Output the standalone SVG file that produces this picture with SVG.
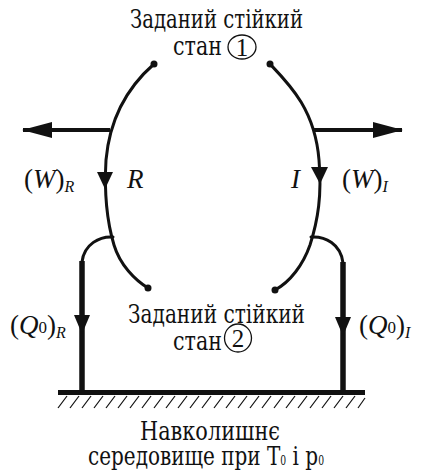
<svg xmlns="http://www.w3.org/2000/svg" width="425" height="475" viewBox="0 0 425 475">
<style>
text{font-family:"Liberation Serif","DejaVu Serif",serif;fill:#111;}
.t{font-size:26px;font-family:"DejaVu Serif","Liberation Serif",serif;}
.i{font-style:italic;}
.m{font-size:27px;}
.s{font-size:16px;font-style:italic;}
.z{font-size:17px;font-style:normal;}
.arc{fill:none;stroke:#111;stroke-width:3;stroke-linecap:round;}
.thick{fill:none;stroke:#111;stroke-width:5.5;}
.ar{fill:none;stroke:#111;stroke-width:4;}
.h{stroke:#111;stroke-width:1.2;}
.tri{fill:#111;}
.c{fill:none;stroke:#111;stroke-width:1.3;}
</style>
<defs>
<marker id="ah" viewBox="0 0 30 16" refX="29" refY="8" markerWidth="30" markerHeight="16" markerUnits="userSpaceOnUse" orient="auto">
<path d="M0,0 L30,8 L0,16 Z" fill="#111"/>
</marker>
</defs>

<g id="state1">
<text class="t" x="130" y="28" textLength="173" lengthAdjust="spacingAndGlyphs">Заданий стійкий</text>
<text class="t" x="173" y="55" textLength="49" lengthAdjust="spacingAndGlyphs">стан</text>
<ellipse class="c" cx="242" cy="47" rx="14" ry="12"/>
<text x="242" y="56" text-anchor="middle" font-size="25">1</text>
</g>

<g id="state2">
<text class="t" x="128" y="323" textLength="177" lengthAdjust="spacingAndGlyphs">Заданий стійкий</text>
<text class="t" x="173" y="350" textLength="49" lengthAdjust="spacingAndGlyphs">стан</text>
<ellipse class="c" cx="238" cy="338" rx="13.5" ry="14"/>
<text x="238" y="347" text-anchor="middle" font-size="25">2</text>
</g>

<g id="environment">
<rect x="58" y="390" width="307" height="5" fill="#111"/>
<g class="h">
<line x1="58" y1="408" x2="67" y2="396"/><line x1="70" y1="408" x2="79" y2="396"/><line x1="82" y1="408" x2="91" y2="396"/><line x1="94" y1="408" x2="103" y2="396"/><line x1="106" y1="408" x2="115" y2="396"/><line x1="118" y1="408" x2="127" y2="396"/><line x1="130" y1="408" x2="139" y2="396"/><line x1="142" y1="408" x2="151" y2="396"/><line x1="154" y1="408" x2="163" y2="396"/><line x1="166" y1="408" x2="175" y2="396"/><line x1="178" y1="408" x2="187" y2="396"/><line x1="190" y1="408" x2="199" y2="396"/><line x1="202" y1="408" x2="211" y2="396"/><line x1="214" y1="408" x2="223" y2="396"/><line x1="226" y1="408" x2="235" y2="396"/><line x1="238" y1="408" x2="247" y2="396"/><line x1="250" y1="408" x2="259" y2="396"/><line x1="262" y1="408" x2="271" y2="396"/><line x1="274" y1="408" x2="283" y2="396"/><line x1="286" y1="408" x2="295" y2="396"/><line x1="298" y1="408" x2="307" y2="396"/><line x1="310" y1="408" x2="319" y2="396"/><line x1="322" y1="408" x2="331" y2="396"/><line x1="334" y1="408" x2="343" y2="396"/><line x1="346" y1="408" x2="355" y2="396"/><line x1="358" y1="408" x2="365" y2="398"/>
</g>
<text class="t" x="140" y="440" textLength="140" lengthAdjust="spacingAndGlyphs">Навколишнє</text>
<text class="t" x="88" y="465" textLength="236" lengthAdjust="spacingAndGlyphs">середовище при Т<tspan font-size="12">0</tspan> і р<tspan font-size="12">0</tspan></text>
</g>

<g id="connectors">
<path class="arc" d="M154,64 C130,85 110,115 106,160 C104,195 108,225 114,245 C120,265 135,280 148,288"/>
<circle cx="154" cy="64" r="3.5" fill="#111"/>
<circle cx="148" cy="288" r="3.5" fill="#111"/>
<polygon class="tri" points="97,172 113,172 105,189"/>
<path class="arc" d="M270,64 C290,85 315,110 319,160 C322,195 318,220 310,245 C303,265 290,282 275,290"/>
<circle cx="270" cy="64" r="3.5" fill="#111"/>
<circle cx="275" cy="290" r="3.5" fill="#111"/>
<polygon class="tri" points="311,167 328,167 320,184"/>
<line class="ar" x1="110" y1="130" x2="23" y2="130" marker-end="url(#ah)"/>
<line class="ar" x1="313" y1="130" x2="402" y2="130" marker-end="url(#ah)"/>
<path class="arc" d="M113,237 C100,236 84,244 82,262"/>
<line class="thick" x1="82" y1="261" x2="82" y2="392"/>
<polygon class="tri" points="74,315 90,315 82,334"/>
<path class="arc" d="M311,237 C325,236 341,244 343,263"/>
<line class="thick" x1="343" y1="262" x2="343" y2="392"/>
<polygon class="tri" points="335,317 351,317 343,336"/>
</g>

<g id="labels">
<text class="m" x="24" y="188">(<tspan class="i">W</tspan>)<tspan class="s" dy="4">R</tspan></text>
<text class="m i" x="127" y="188">R</text>
<text class="m i" x="291" y="188">I</text>
<text class="m" x="342" y="188">(<tspan class="i">W</tspan>)<tspan class="s" dy="4">I</tspan></text>
<text class="m" x="10" y="334">(<tspan class="i">Q</tspan><tspan class="z" dy="-1">0</tspan><tspan dy="1">)</tspan><tspan class="s" dy="4">R</tspan></text>
<text class="m" x="359" y="334">(<tspan class="i">Q</tspan><tspan class="z" dy="-1">0</tspan><tspan dy="1">)</tspan><tspan class="s" dy="4">I</tspan></text>
</g>
</svg>
